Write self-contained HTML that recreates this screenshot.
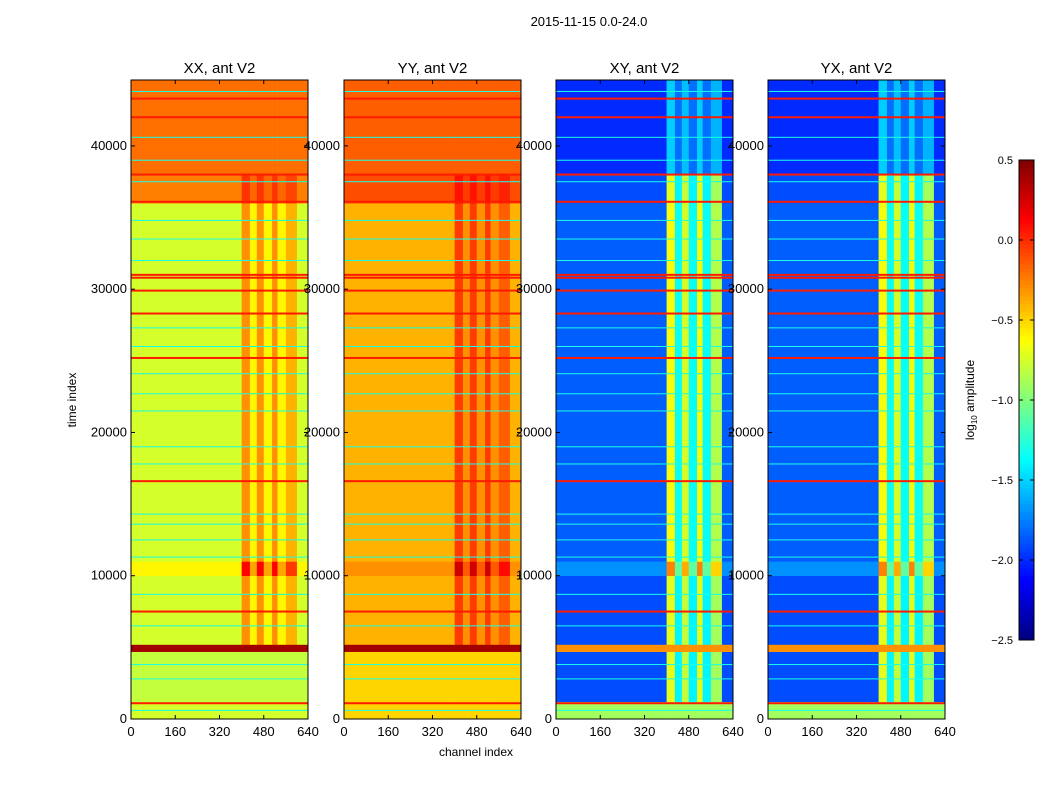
<!DOCTYPE html>
<html><head><meta charset="utf-8">
<style>
body{margin:0;background:#fff;font-family:"Liberation Sans","DejaVu Sans",sans-serif;}
svg text{font-family:"Liberation Sans","DejaVu Sans",sans-serif;}
</style></head>
<body>
<svg id="fig" width="1050" height="800" viewBox="0 0 1050 800" xmlns="http://www.w3.org/2000/svg">
<rect width="1050" height="800" fill="#fff"/>
<text x="589" y="26" font-size="13" text-anchor="middle">2015-11-15 0.0-24.0</text>
<g id="panels"></g>
<g id="cbar"></g>
</svg>
<script>
// ---- data ----
const panelTitles = ["XX, ant V2","YY, ant V2","XY, ant V2","YX, ant V2"];
const timeEdges = [0,1200,4700,5200,10000,11000,36000,38000,44600];
const chanEdges = [0,400,430,455,480,510,530,560,600,640];
const baseXX = [-0.75,-0.8,0.4,-0.75,-0.6,-0.75,-0.25,-0.2];
const baseYY = [-0.5,-0.5,0.4,-0.4,-0.3,-0.4,-0.1,-0.15];
const baseXY = [-0.9,-1.9,-0.3,-1.9,-1.7,-1.85,-1.9,-2.0];
const baseYX = [-0.9,-1.9,-0.3,-1.9,-1.7,-1.85,-1.9,-2.0];
const rfiMaskCo = [0,0,0,1,1.6,1,0.5,0];
const rfiMaskCross = [0,1,0,1,1.2,1,1,0.4];
const boostXX = [0,0.45,0.15,0.45,0.15,0.45,0.15,0.35,0];
const boostYY = [0,0.35,0.1,0.35,0.1,0.35,0.1,0.25,0];
const boostXY = [0,1.2,0.5,1.1,0.5,1.2,0.5,1.0,0];
const boostYX = [0,1.2,0.5,1.1,0.5,1.2,0.5,1.0,0];
const redLineT = [1100,7500,16600,25200,28300,29900,30800,31000,36100,38000,42000,43300];
const cyanLineT = [600,2800,3800,6500,8700,11300,12500,13600,14300,17800,19000,21500,22700,24100,26000,27300,32000,33500,34800,37500,39000,40600,43800];
const xTicks = [0,160,320,480,640];
const yTicks = [0,10000,20000,30000,40000];
const cbTicks = [0.5,0.0,-0.5,-1.0,-1.5,-2.0,-2.5];
const cbTickLabels = ["0.5","0.0","\u22120.5","\u22121.0","\u22121.5","\u22122.0","\u22122.5"];
const redLevel = 0.05, cyanLevel = -1.3;

// ---- layout ----
const panelX = [131,344,556,768], pw = 177, plotTop = 80, plotBot = 719;
const tMax = 44600, cMax = 640, vmin = -2.5, vmax = 0.5;
const bases = [baseXX,baseYY,baseXY,baseYX];
const boosts = [boostXX,boostYY,boostXY,boostYX];
const masks = [rfiMaskCo,rfiMaskCo,rfiMaskCross,rfiMaskCross];
const NS = "http://www.w3.org/2000/svg";
function jet(v){
  let t=(v-vmin)/(vmax-vmin); t=Math.max(0,Math.min(1,t));
  const f=x=>Math.round(255*Math.max(0,Math.min(1,1.5-Math.abs(4*t-x))));
  return `rgb(${f(3)},${f(2)},${f(1)})`;
}
function el(tag,attrs,parent){const e=document.createElementNS(NS,tag);for(const k in attrs)e.setAttribute(k,attrs[k]);parent.appendChild(e);return e;}
const ys = t => plotBot - t/tMax*(plotBot-plotTop);
const panels = document.getElementById('panels');
panelTitles.forEach((title,p)=>{
  const x0 = panelX[p];
  const xs = c => x0 + c/cMax*pw;
  const g = el('g',{},panels);
  
  
  for(let b=0;b<timeEdges.length-1;b++){
    for(let s=0;s<chanEdges.length-1;s++){
      const v = bases[p][b] + boosts[p][s]*masks[p][b];
      const r = el('rect',{x:xs(chanEdges[s]),y:ys(timeEdges[b+1]),width:xs(chanEdges[s+1])-xs(chanEdges[s])+0.3,height:ys(timeEdges[b])-ys(timeEdges[b+1])+0.3,fill:jet(v)},g);
      
      
    }
  }
  cyanLineT.forEach(t=>{
    const l = el('rect',{x:x0,y:ys(t)-0.5,width:pw,height:1,fill:jet(cyanLevel)},g);
    
    
  });
  redLineT.forEach(t=>{
    const l = el('rect',{x:x0,y:ys(t)-1,width:pw,height:2,fill:jet(redLevel)},g);
    
    
  });
  el('rect',{x:x0,y:plotTop,width:pw,height:plotBot-plotTop,fill:'none',stroke:'#000','stroke-width':1},g);
  const tt = el('text',{x:x0+pw/2,y:plotTop-7,'font-size':15,'text-anchor':'middle'},g);
  tt.textContent = title;
  
  
  xTicks.forEach(c=>{
    el('line',{x1:xs(c),x2:xs(c),y1:plotBot,y2:plotBot-4,stroke:'#000'},g);
    el('line',{x1:xs(c),x2:xs(c),y1:plotTop,y2:plotTop+4,stroke:'#000'},g);
    const tx = el('text',{x:xs(c),y:plotBot+17,'font-size':13,'text-anchor':'middle'},g);
    tx.textContent = c;
    
    
  });
  yTicks.forEach(t=>{
    el('line',{x1:x0,x2:x0+4,y1:ys(t),y2:ys(t),stroke:'#000'},g);
    el('line',{x1:x0+pw,x2:x0+pw-4,y1:ys(t),y2:ys(t),stroke:'#000'},g);
    const ty = el('text',{x:x0-4,y:ys(t)+4,'font-size':13,'text-anchor':'end'},g);
    ty.textContent = t;
    
    
  });
});
const fig=document.getElementById('fig');
const xl = el('text',{x:476,y:756,'font-size':12,'text-anchor':'middle'},fig);
xl.textContent='channel index';


const yl = el('text',{x:76,y:400,'font-size':12,'text-anchor':'middle',transform:'rotate(-90 76 400)'},fig);
yl.textContent='time index';



// colorbar
const cb = document.getElementById('cbar');


const cbX=1019, cbW=15, cbTop=160, cbBot=640;
const cv = v => cbBot - (v-vmin)/(vmax-vmin)*(cbBot-cbTop);
for(let i=0;i<120;i++){
  const v0 = vmin + i*(vmax-vmin)/120, v1 = vmin+(i+1)*(vmax-vmin)/120;
  el('rect',{x:cbX,y:cv(v1),width:cbW,height:cv(v0)-cv(v1)+0.4,fill:jet((v0+v1)/2)},cb);
}
el('rect',{x:cbX,y:cbTop,width:cbW,height:cbBot-cbTop,fill:'none',stroke:'#000'},cb);
cbTicks.forEach((v,i)=>{
  el('line',{x1:cbX,x2:cbX+4,y1:cv(v),y2:cv(v),stroke:'#000'},cb);
  el('line',{x1:cbX+cbW,x2:cbX+cbW-4,y1:cv(v),y2:cv(v),stroke:'#000'},cb);
  const t = el('text',{x:1013,y:cv(v)+4,'font-size':11,'text-anchor':'end'},cb);
  t.textContent = cbTickLabels[i];
  
  
});
const cl = el('text',{x:974,y:400,'font-size':12,'text-anchor':'middle',transform:'rotate(-90 974 400)'},cb);
cl.innerHTML='log<tspan font-size="8" dy="3">10</tspan><tspan dy="-3"> amplitude</tspan>';


</script>
</body></html>
